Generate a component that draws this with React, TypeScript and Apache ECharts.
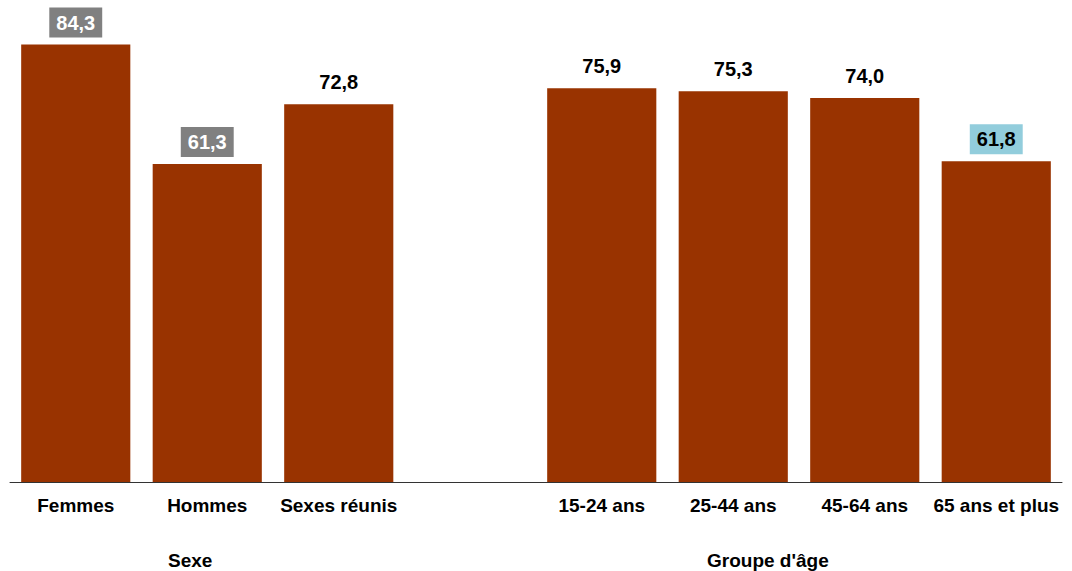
import React, { useEffect, useRef } from "react";
import * as echarts from "echarts";

const categories = ["Femmes", "Hommes", "Sexes réunis", "", "15-24 ans", "25-44 ans", "45-64 ans", "65 ans et plus"];
const values: (number | null)[] = [84.3, 61.3, 72.8, null, 75.9, 75.3, 74.0, 61.8];
// label highlight: "gray" = significantly different between sexes, "blue" = different from other age groups
const highlights = ["gray", "gray", "", "", "", "", "", "blue"];
const groupLabels = ["Sexe", "Groupe d'âge"];

const FONT = "Liberation Sans, Arial, sans-serif";

export default function App() {
  const ref = useRef<HTMLDivElement>(null);
  useEffect(() => {
    if (!ref.current) return;
    const chart = echarts.init(ref.current, undefined, { renderer: "svg" });
    const data = values.map((v, i) => {
      if (v === null) return null;
      const h = highlights[i];
      const bg = h === "gray" ? "#808080" : h === "blue" ? "#92CDDC" : "transparent";
      const color = h === "gray" ? "#ffffff" : "#000000";
      return {
        value: v,
        label: { backgroundColor: bg, color },
      };
    });
    chart.setOption({
      animation: false,
      grid: { left: 10, right: 10, top: 15, bottom: 89, containLabel: false },
      xAxis: {
        type: "category",
        data: categories,
        axisLine: { show: true, lineStyle: { color: "#333333", width: 1 } },
        axisTick: { show: false },
        axisLabel: {
          interval: 0,
          margin: 14,
          fontFamily: FONT,
          fontWeight: "bold",
          fontSize: 19,
          color: "#000000",
        },
      },
      yAxis: {
        type: "value",
        min: 0,
        max: 90,
        show: false,
        splitLine: { show: false },
      },
      series: [
        {
          type: "bar",
          data,
          barCategoryGap: "17%",
          itemStyle: { color: "#993300" },
          label: {
            show: true,
            position: "top",
            distance: 7,
            fontFamily: FONT,
            fontWeight: "bold",
            fontSize: 20,
            padding: [5, 7, 5, 7],
            formatter: (p: any) => Number(p.value).toFixed(1).replace(".", ","),
          },
        },
      ],
      graphic: [
        {
          type: "text",
          left: 168,
          top: 551,
          style: { text: groupLabels[0], font: `bold 19px ${FONT}`, fill: "#000000" },
        },
        {
          type: "text",
          left: 707,
          top: 551,
          style: { text: groupLabels[1], font: `bold 19px ${FONT}`, fill: "#000000" },
        },
      ],
    });
    return () => chart.dispose();
  }, []);
  return (
    <div
      ref={ref}
      style={{ position: "fixed", left: 0, top: 0, width: 1072, height: 571, background: "#ffffff" }}
    />
  );
}
